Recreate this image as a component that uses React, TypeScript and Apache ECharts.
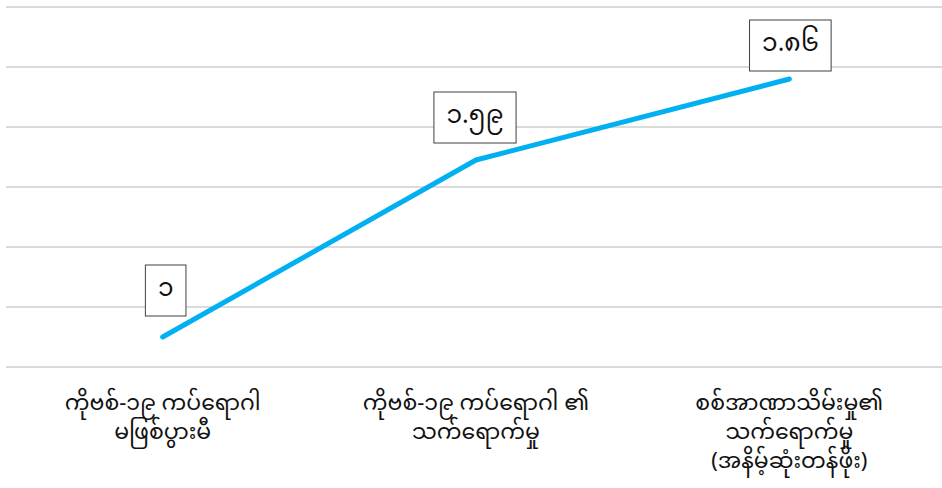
import React, { useEffect, useRef } from "react";
import * as echarts from "echarts";

const categories = [
  "ကိုဗစ်-၁၉ ကပ်ရောဂါ\nမဖြစ်ပွားမီ",
  "ကိုဗစ်-၁၉ ကပ်ရောဂါ ၏\nသက်ရောက်မှု",
  "စစ်အာဏာသိမ်းမှု၏\nသက်ရောက်မှု\n(အနိမ့်ဆုံးတန်ဖိုး)",
];
const values = [1, 1.59, 1.86];
const valueLabels = ["၁", "၁.၅၉", "၁.၈၆"];
const labelDistances = [21, 17, 8];
const labelShiftX = [3, -1, 1];

const FONT = "'Noto Sans Myanmar', 'Padauk', 'Myanmar Text', 'Noto Sans', sans-serif";

export default function App() {
  const ref = useRef<HTMLDivElement>(null);
  useEffect(() => {
    if (!ref.current) return;
    const chart = echarts.init(ref.current, null, { renderer: "svg" });
    chart.setOption({
      animation: false,
      grid: { left: 6, width: 940, top: 7, height: 360, containLabel: false },
      xAxis: {
        type: "category",
        data: categories,
        boundaryGap: true,
        axisLine: { show: false },
        axisTick: { show: false },
        axisLabel: {
          color: "#111",
          fontSize: 22,
          lineHeight: 29,
          margin: 23,
          fontFamily: FONT,
          align: "center",
          interval: 0,
        },
      },
      yAxis: {
        type: "value",
        min: 0.9,
        max: 2.1,
        interval: 0.1,
        axisLabel: { show: false },
        axisLine: { show: false },
        axisTick: { show: false },
        splitLine: {
          show: true,
          lineStyle: { color: ["#cfcfcf", "rgba(0,0,0,0)"], width: 1.5 },
        },
      },
      series: [
        {
          type: "line",
          data: values.map((v, i) => ({
            value: v,
            label: {
              distance: labelDistances[i],
              offset: [labelShiftX[i], 0],
              formatter: valueLabels[i],
            },
          })),
          symbol: "circle",
          symbolSize: 1,
          showSymbol: true,
          lineStyle: { color: "#00b0f0", width: 5, cap: "round", join: "round" },
          itemStyle: { color: "#00b0f0" },
          label: {
            show: true,
            position: "top",
            color: "#111",
            fontSize: 25,
            lineHeight: 24,
            fontFamily: FONT,
            borderColor: "#404040",
            borderWidth: 1,
            backgroundColor: "#fff",
            padding: [13, 12],
          },
        },
      ],
    });
    return () => chart.dispose();
  }, []);
  return (
    <div
      ref={ref}
      style={{ position: "fixed", left: 0, top: 0, width: 950, height: 488, background: "#fff" }}
    />
  );
}
